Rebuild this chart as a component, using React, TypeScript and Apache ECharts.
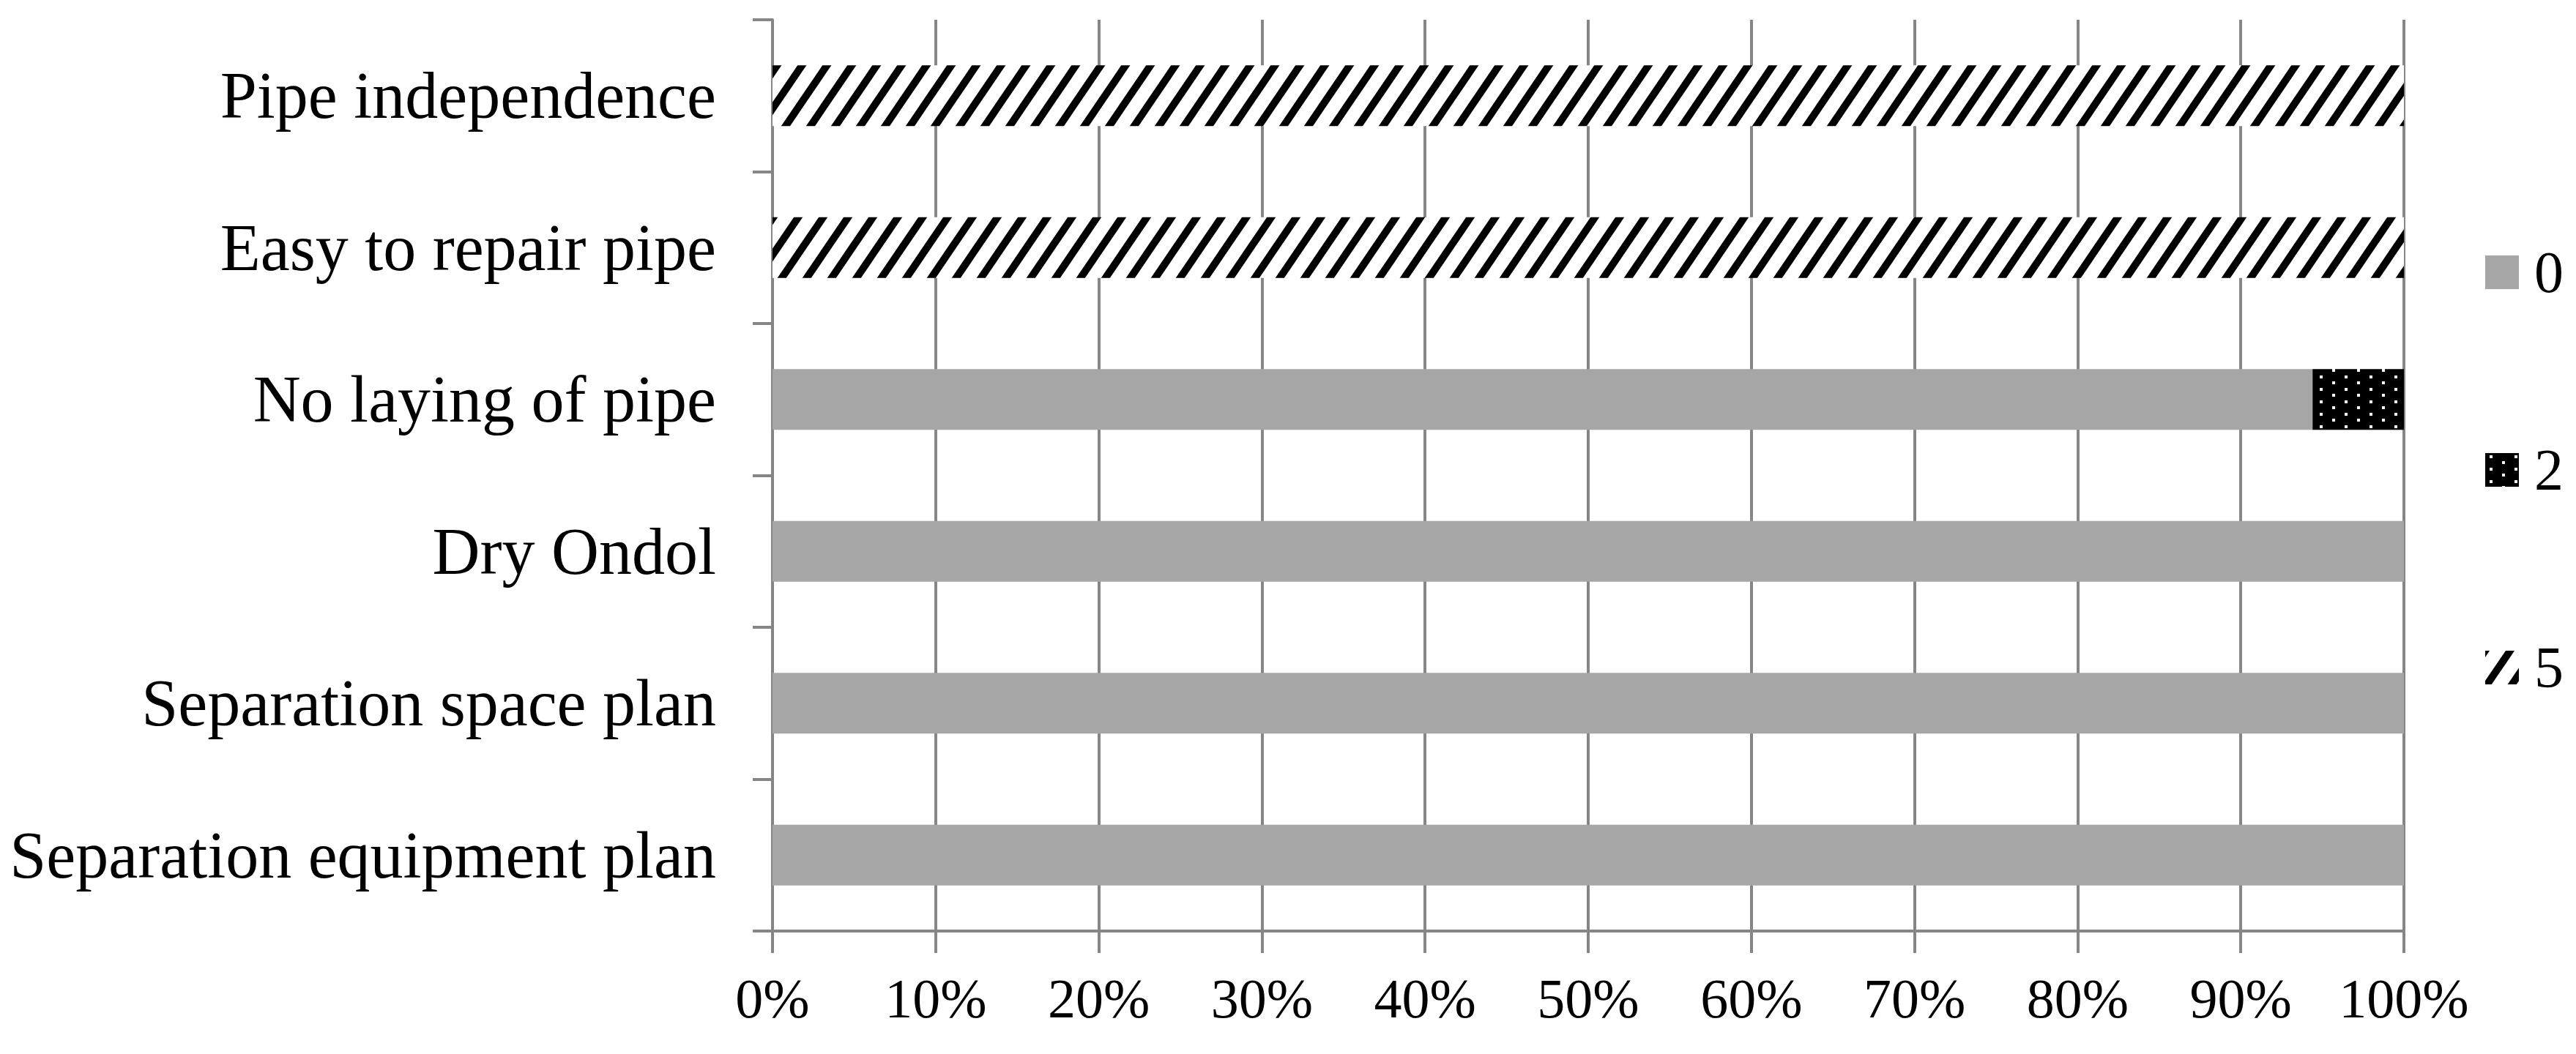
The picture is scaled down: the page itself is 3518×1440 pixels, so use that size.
import React, { useEffect, useRef } from "react";
import * as echarts from "echarts";

const categories = [
  "Separation equipment plan",
  "Separation space plan",
  "Dry Ondol",
  "No laying of pipe",
  "Easy to repair pipe",
  "Pipe independence",
];
const seriesNames = ["0", "2", "5"];
const values0 = [100, 100, 100, 94.4, 0, 0];
const values2 = [0, 0, 0, 5.6, 0, 0];
const values5 = [0, 0, 0, 0, 100, 100];
const xTicks = [0, 10, 20, 30, 40, 50, 60, 70, 80, 90, 100];

const FONT = "'Liberation Serif', 'Times New Roman', serif";
const GRID_COLOR = "#868686";

function makeHatch(): HTMLCanvasElement {
  const c = document.createElement("canvas");
  const W = 34;
  const H = 50;
  c.width = W;
  c.height = H;
  const ctx = c.getContext("2d")!;
  ctx.fillStyle = "#ffffff";
  ctx.fillRect(0, 0, W, H);
  ctx.strokeStyle = "#000000";
  ctx.lineWidth = 10;
  for (const dx of [-W, 0, W]) {
    ctx.beginPath();
    ctx.moveTo(dx - W, H * 2);
    ctx.lineTo(dx + 2 * W, -H);
    ctx.stroke();
  }
  return c;
}

function makeDots(): HTMLCanvasElement {
  const c = document.createElement("canvas");
  c.width = 34;
  c.height = 17;
  const ctx = c.getContext("2d")!;
  ctx.fillStyle = "#000000";
  ctx.fillRect(0, 0, 34, 17);
  ctx.fillStyle = "#ffffff";
  ctx.fillRect(6, 3, 4, 4);
  ctx.fillRect(23, 11, 4, 4);
  return c;
}

export default function App() {
  const ref = useRef<HTMLDivElement>(null);

  useEffect(() => {
    if (!ref.current) return;
    const chart = echarts.init(ref.current, null, { renderer: "svg" });
    const hatch = makeHatch();
    const dots = makeDots();
    const colors: any[] = [
      "#a6a6a6",
      { image: dots, repeat: "repeat" },
      { image: hatch, repeat: "repeat" },
    ];
    const data = [values0, values2, values5];

    chart.setOption({
      animation: false,
      backgroundColor: "#ffffff",
      grid: { left: 1055, right: 235, top: 27, bottom: 168, containLabel: false },
      legend: {
        orient: "vertical",
        left: 3389,
        top: 327,
        itemWidth: 46,
        itemHeight: 46,
        itemGap: 190,
        icon: "rect",
        data: seriesNames,
        textStyle: {
          fontFamily: FONT,
          fontSize: 80,
          color: "#000000",
          padding: [0, 0, 0, 16],
        },
      },
      xAxis: {
        type: "value",
        min: xTicks[0],
        max: xTicks[xTicks.length - 1],
        interval: 10,
        axisLine: { show: true, lineStyle: { color: GRID_COLOR, width: 4 } },
        axisTick: { show: true, length: 30, lineStyle: { color: GRID_COLOR, width: 4 } },
        splitLine: { show: true, lineStyle: { color: GRID_COLOR, width: 4 } },
        axisLabel: {
          formatter: "{value}%",
          fontFamily: FONT,
          fontSize: 76,
          color: "#000000",
          margin: 54,
        },
      },
      yAxis: {
        type: "category",
        data: categories,
        axisLine: { show: true, lineStyle: { color: GRID_COLOR, width: 4 } },
        axisTick: { show: true, length: 27, lineStyle: { color: GRID_COLOR, width: 4 } },
        splitLine: { show: false },
        axisLabel: {
          fontFamily: FONT,
          fontSize: 90,
          color: "#000000",
          margin: 77,
        },
      },
      series: seriesNames.map((name, i) => ({
        name,
        type: "bar",
        stack: "total",
        barCategoryGap: "60%",
        data: data[i],
        itemStyle: { color: colors[i] },
        emphasis: { disabled: true },
      })),
    });

    return () => chart.dispose();
  }, []);

  return (
    <div
      ref={ref}
      style={{ position: "fixed", left: 0, top: 0, width: 3518, height: 1440, background: "#fff" }}
    />
  );
}
